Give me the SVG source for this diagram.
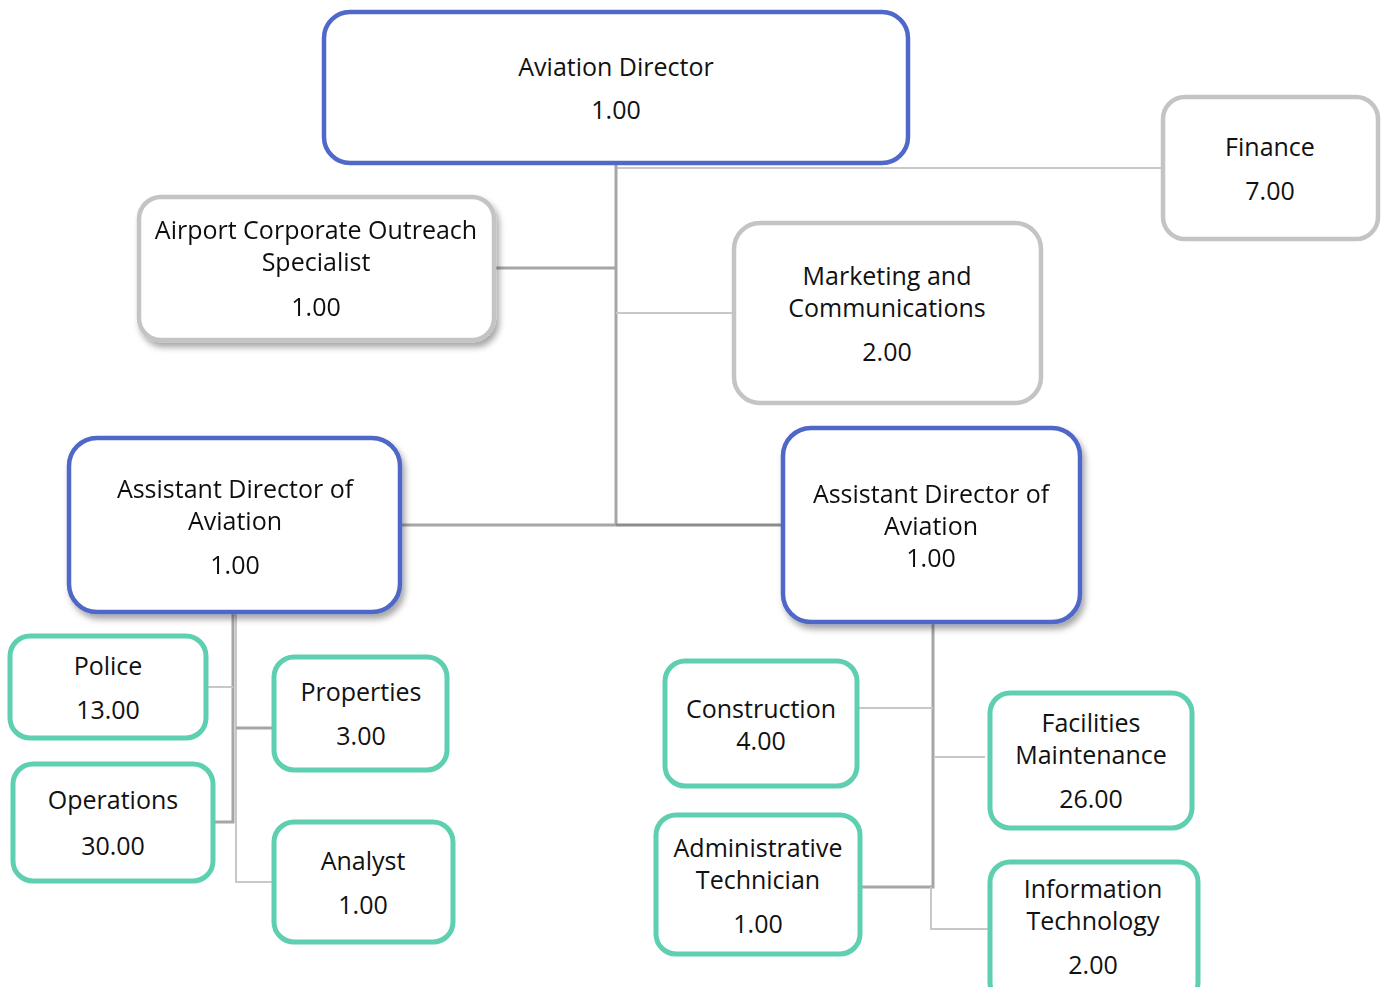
<svg xmlns="http://www.w3.org/2000/svg" width="1385" height="987" viewBox="0 0 1385 987">
<defs>
<filter id="sh" x="-10%" y="-10%" width="125%" height="130%">
<feDropShadow dx="3" dy="5" stdDeviation="3" flood-color="#000" flood-opacity="0.35"/>
</filter>
</defs>
<style>
text{font-family:"Open Sans","Noto Sans","DejaVu Sans",sans-serif;font-size:25px;fill:#111;text-anchor:middle}
.blue{fill:#fff;stroke:#5068C8;stroke-width:4.5}
.gray{fill:#fff;stroke:#C4C4C4;stroke-width:4.5}
.teal{fill:#fff;stroke:#5ECFB0;stroke-width:5}
.c1{stroke:#A6A6A6;stroke-width:3;fill:none}
.c2{stroke:#C8C8C8;stroke-width:2;fill:none}
.c3{stroke:#8C8C8C;stroke-width:3;fill:none}
</style>
<g id="connectors">
<path class="c2" d="M616 168H1163"/>
<path class="c1" d="M616 163V525"/>
<path class="c1" d="M494 268H616"/>
<path class="c2" d="M616 313H734"/>
<path class="c1" d="M400 525H616"/>
<path class="c3" d="M616 525H783"/>
<path class="c1" d="M233 612V822H213"/>
<path class="c2" d="M206 687H233"/>
<path class="c2" d="M236 612V882H274"/>
<path class="c1" d="M236 728H274"/>
<path class="c1" d="M933 622V887H860"/>
<path class="c2" d="M857 708H933"/>
<path class="c2" d="M935 757H985"/>
<path class="c2" d="M931 887V929H990"/>
</g>
<g id="n-director">
<rect class="blue" x="324" y="12" width="584" height="151" rx="26"/>
<text x="616" y="76">Aviation Director</text>
<text x="616" y="119">1.00</text>
</g>
<g id="n-finance">
<rect class="gray" x="1163" y="97" width="215" height="142" rx="22"/>
<text x="1270" y="156">Finance</text>
<text x="1270" y="200">7.00</text>
</g>
<g id="n-outreach" filter="url(#sh)">
<rect class="gray" x="139" y="197" width="355" height="143" rx="22"/>
<text x="316" y="239">Airport Corporate Outreach</text>
<text x="316" y="271">Specialist</text>
<text x="316" y="316">1.00</text>
</g>
<g id="n-marketing">
<rect class="gray" x="734" y="223" width="307" height="180" rx="26"/>
<text x="887" y="285">Marketing and</text>
<text x="887" y="317">Communications</text>
<text x="887" y="361">2.00</text>
</g>
<g id="n-asst-left" filter="url(#sh)">
<rect class="blue" x="69" y="438" width="331" height="174" rx="28"/>
<text x="235" y="498">Assistant Director of</text>
<text x="235" y="530">Aviation</text>
<text x="235" y="574">1.00</text>
</g>
<g id="n-asst-right" filter="url(#sh)">
<rect class="blue" x="783" y="428" width="297" height="194" rx="28"/>
<text x="931" y="503">Assistant Director of</text>
<text x="931" y="535">Aviation</text>
<text x="931" y="567">1.00</text>
</g>
<g id="n-police">
<rect class="teal" x="10" y="636" width="196" height="102" rx="20"/>
<text x="108" y="675">Police</text>
<text x="108" y="719">13.00</text>
</g>
<g id="n-properties">
<rect class="teal" x="274" y="657" width="173" height="113" rx="20"/>
<text x="361" y="701">Properties</text>
<text x="361" y="745">3.00</text>
</g>
<g id="n-operations">
<rect class="teal" x="13" y="764" width="200" height="117" rx="20"/>
<text x="113" y="809">Operations</text>
<text x="113" y="855">30.00</text>
</g>
<g id="n-analyst">
<rect class="teal" x="274" y="822" width="179" height="120" rx="20"/>
<text x="363" y="870">Analyst</text>
<text x="363" y="914">1.00</text>
</g>
<g id="n-construction">
<rect class="teal" x="665" y="661" width="192" height="125" rx="20"/>
<text x="761" y="718">Construction</text>
<text x="761" y="750">4.00</text>
</g>
<g id="n-facilities">
<rect class="teal" x="990" y="693" width="202" height="135" rx="20"/>
<text x="1091" y="732">Facilities</text>
<text x="1091" y="764">Maintenance</text>
<text x="1091" y="808">26.00</text>
</g>
<g id="n-admin">
<rect class="teal" x="656" y="815" width="204" height="139" rx="20"/>
<text x="758" y="857">Administrative</text>
<text x="758" y="889">Technician</text>
<text x="758" y="933">1.00</text>
</g>
<g id="n-it">
<rect class="teal" x="990" y="862" width="208" height="140" rx="20"/>
<text x="1093" y="898">Information</text>
<text x="1093" y="930">Technology</text>
<text x="1093" y="974">2.00</text>
</g>
</svg>
